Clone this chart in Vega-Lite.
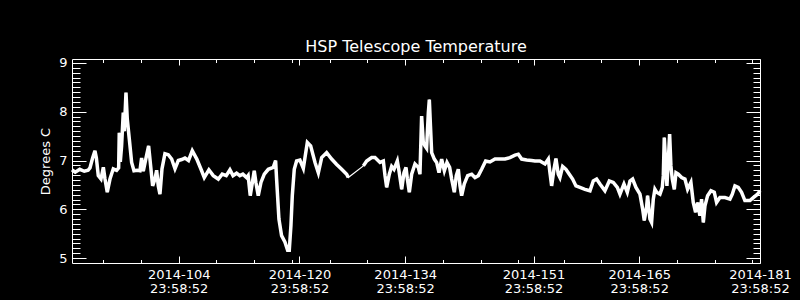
{
  "$schema": "https://vega.github.io/schema/vega-lite/v6.json",
  "width": 688,
  "height": 204,
  "autosize": {"type": "none"},
  "padding": {"left": 72, "top": 59, "right": 40, "bottom": 37},
  "background": "black",
  "title": {"text": "HSP Telescope Temperature", "fontSize": 16, "font": "DejaVu Sans", "fontWeight": "normal", "color": "white", "anchor": "middle", "baseline": "alphabetic", "offset": -11, "frame": "group"},
  "data": {"values": [
    {"t": 89.87, "v": 6.81}, {"t": 90.3, "v": 6.76}, {"t": 90.9, "v": 6.82}, {"t": 91.5, "v": 6.78}, {"t": 92.0, "v": 6.80},
    {"t": 92.25, "v": 6.85}, {"t": 92.6, "v": 7.05}, {"t": 92.91, "v": 7.20}, {"t": 93.1, "v": 7.05}, {"t": 93.35, "v": 6.69},
    {"t": 93.71, "v": 6.62}, {"t": 94.02, "v": 6.86}, {"t": 94.24, "v": 6.62}, {"t": 94.54, "v": 6.35}, {"t": 94.90, "v": 6.62},
    {"t": 95.34, "v": 6.83}, {"t": 95.78, "v": 6.80}, {"t": 96.05, "v": 6.85}, {"t": 96.13, "v": 7.57}, {"t": 96.27, "v": 6.97},
    {"t": 96.44, "v": 7.30}, {"t": 96.66, "v": 7.98}, {"t": 96.8, "v": 7.6}, {"t": 97.02, "v": 8.39}, {"t": 97.19, "v": 7.85},
    {"t": 97.46, "v": 7.44}, {"t": 97.77, "v": 6.96}, {"t": 98.08, "v": 6.79}, {"t": 98.5, "v": 6.80}, {"t": 98.87, "v": 6.79},
    {"t": 99.09, "v": 7.05}, {"t": 99.31, "v": 6.78}, {"t": 99.67, "v": 7.05}, {"t": 100.02, "v": 7.30}, {"t": 100.28, "v": 6.90},
    {"t": 100.55, "v": 6.48}, {"t": 100.86, "v": 6.62}, {"t": 101.08, "v": 6.80}, {"t": 101.30, "v": 6.48}, {"t": 101.52, "v": 6.31},
    {"t": 101.79, "v": 6.83}, {"t": 102.18, "v": 7.14}, {"t": 102.62, "v": 7.12}, {"t": 103.07, "v": 7.03}, {"t": 103.51, "v": 6.83},
    {"t": 103.95, "v": 7.00}, {"t": 104.4, "v": 7.02}, {"t": 104.83, "v": 7.05}, {"t": 105.3, "v": 7.00}, {"t": 105.80, "v": 7.20},
    {"t": 106.4, "v": 7.03}, {"t": 107.04, "v": 6.79}, {"t": 107.39, "v": 6.65}, {"t": 108.0, "v": 6.81}, {"t": 108.58, "v": 6.69},
    {"t": 109.25, "v": 6.62}, {"t": 109.77, "v": 6.72}, {"t": 110.3, "v": 6.69}, {"t": 110.79, "v": 6.81}, {"t": 111.2, "v": 6.69},
    {"t": 111.67, "v": 6.74}, {"t": 112.1, "v": 6.69}, {"t": 112.5, "v": 6.72}, {"t": 113.0, "v": 6.65}, {"t": 113.2, "v": 6.69},
    {"t": 113.48, "v": 6.28}, {"t": 114.01, "v": 6.79}, {"t": 114.23, "v": 6.55}, {"t": 114.54, "v": 6.28}, {"t": 114.90, "v": 6.55},
    {"t": 115.34, "v": 6.72}, {"t": 115.87, "v": 6.82}, {"t": 116.53, "v": 6.86}, {"t": 116.84, "v": 7.00}, {"t": 116.97, "v": 6.62},
    {"t": 117.28, "v": 5.80}, {"t": 117.63, "v": 5.46}, {"t": 118.07, "v": 5.33}, {"t": 118.43, "v": 5.16}, {"t": 118.65, "v": 5.16},
    {"t": 118.87, "v": 5.67}, {"t": 119.05, "v": 6.28}, {"t": 119.31, "v": 6.82}, {"t": 119.62, "v": 6.99}, {"t": 120.06, "v": 7.01},
    {"t": 120.51, "v": 6.84}, {"t": 121.04, "v": 7.37}, {"t": 121.48, "v": 7.30}, {"t": 122.06, "v": 6.96}, {"t": 122.50, "v": 6.75},
    {"t": 122.94, "v": 7.06}, {"t": 123.60, "v": 7.16}, {"t": 124.26, "v": 7.03}, {"t": 124.93, "v": 6.92}, {"t": 125.59, "v": 6.82},
    {"t": 126.25, "v": 6.72}, {"t": 126.47, "v": 6.65}, {"t": 128.46, "v": 6.89}, {"t": 128.9, "v": 6.99}, {"t": 129.56, "v": 7.06},
    {"t": 130.0, "v": 7.06}, {"t": 130.67, "v": 6.96}, {"t": 131.11, "v": 6.99}, {"t": 131.33, "v": 6.69}, {"t": 131.55, "v": 6.45},
    {"t": 131.90, "v": 6.72}, {"t": 132.21, "v": 6.88}, {"t": 132.52, "v": 6.82}, {"t": 132.96, "v": 6.99}, {"t": 133.18, "v": 6.79},
    {"t": 133.54, "v": 6.41}, {"t": 133.84, "v": 6.75}, {"t": 134.11, "v": 6.86}, {"t": 134.29, "v": 6.62}, {"t": 134.55, "v": 6.35},
    {"t": 134.86, "v": 6.72}, {"t": 135.30, "v": 6.93}, {"t": 135.74, "v": 6.86}, {"t": 135.96, "v": 6.72}, {"t": 136.18, "v": 7.91},
    {"t": 136.40, "v": 7.37}, {"t": 136.62, "v": 7.30}, {"t": 136.84, "v": 7.25}, {"t": 137.07, "v": 7.98}, {"t": 137.20, "v": 8.25},
    {"t": 137.35, "v": 7.71}, {"t": 137.51, "v": 7.16}, {"t": 137.86, "v": 7.03}, {"t": 138.17, "v": 6.96}, {"t": 138.48, "v": 6.75},
    {"t": 138.83, "v": 7.03}, {"t": 139.19, "v": 6.79}, {"t": 139.54, "v": 6.96}, {"t": 139.89, "v": 6.86}, {"t": 140.16, "v": 6.62},
    {"t": 140.51, "v": 6.35}, {"t": 140.77, "v": 6.69}, {"t": 141.04, "v": 6.82}, {"t": 141.26, "v": 6.48}, {"t": 141.48, "v": 6.28},
    {"t": 141.83, "v": 6.52}, {"t": 142.28, "v": 6.69}, {"t": 142.81, "v": 6.72}, {"t": 143.25, "v": 6.65}, {"t": 143.69, "v": 6.69},
    {"t": 144.13, "v": 6.82}, {"t": 144.66, "v": 6.99}, {"t": 145.23, "v": 6.97}, {"t": 145.90, "v": 7.03}, {"t": 146.56, "v": 7.03},
    {"t": 147.22, "v": 7.03}, {"t": 147.88, "v": 7.06}, {"t": 148.55, "v": 7.11}, {"t": 148.99, "v": 7.13}, {"t": 149.43, "v": 7.03},
    {"t": 150.09, "v": 7.01}, {"t": 150.75, "v": 7.00}, {"t": 151.19, "v": 6.99}, {"t": 151.85, "v": 6.99}, {"t": 152.52, "v": 6.93},
    {"t": 152.96, "v": 7.03}, {"t": 153.18, "v": 6.75}, {"t": 153.40, "v": 6.48}, {"t": 153.71, "v": 6.82}, {"t": 153.97, "v": 7.04},
    {"t": 154.28, "v": 6.72}, {"t": 154.50, "v": 6.65}, {"t": 154.86, "v": 6.88}, {"t": 155.30, "v": 6.82}, {"t": 155.74, "v": 6.72},
    {"t": 156.18, "v": 6.62}, {"t": 156.62, "v": 6.48}, {"t": 157.15, "v": 6.45}, {"t": 157.81, "v": 6.41}, {"t": 158.48, "v": 6.38},
    {"t": 158.92, "v": 6.58}, {"t": 159.36, "v": 6.62}, {"t": 159.80, "v": 6.52}, {"t": 160.46, "v": 6.38}, {"t": 161.04, "v": 6.58},
    {"t": 161.57, "v": 6.55}, {"t": 162.10, "v": 6.45}, {"t": 162.45, "v": 6.31}, {"t": 162.98, "v": 6.52}, {"t": 163.42, "v": 6.35},
    {"t": 163.78, "v": 6.58}, {"t": 164.13, "v": 6.62}, {"t": 164.57, "v": 6.45}, {"t": 165.10, "v": 6.31}, {"t": 165.45, "v": 6.01},
    {"t": 165.67, "v": 5.77}, {"t": 165.98, "v": 6.05}, {"t": 166.11, "v": 6.28}, {"t": 166.42, "v": 5.80}, {"t": 166.64, "v": 5.73},
    {"t": 166.86, "v": 6.20}, {"t": 167.08, "v": 6.41}, {"t": 167.31, "v": 6.35}, {"t": 167.75, "v": 6.31}, {"t": 168.06, "v": 6.45},
    {"t": 168.19, "v": 6.69}, {"t": 168.32, "v": 7.47}, {"t": 168.50, "v": 6.99}, {"t": 168.67, "v": 6.48}, {"t": 168.85, "v": 6.99},
    {"t": 169.03, "v": 7.54}, {"t": 169.20, "v": 6.89}, {"t": 169.38, "v": 6.62}, {"t": 169.65, "v": 6.41}, {"t": 169.87, "v": 6.75},
    {"t": 170.18, "v": 6.72}, {"t": 170.62, "v": 6.65}, {"t": 171.06, "v": 6.62}, {"t": 171.41, "v": 6.41}, {"t": 171.85, "v": 6.55},
    {"t": 172.16, "v": 6.14}, {"t": 172.47, "v": 5.94}, {"t": 172.74, "v": 6.14}, {"t": 173.04, "v": 5.87}, {"t": 173.26, "v": 6.21},
    {"t": 173.49, "v": 5.73}, {"t": 173.71, "v": 6.07}, {"t": 174.06, "v": 6.28}, {"t": 174.50, "v": 6.38}, {"t": 174.94, "v": 6.35},
    {"t": 175.25, "v": 6.14}, {"t": 175.69, "v": 6.24}, {"t": 176.36, "v": 6.24}, {"t": 177.02, "v": 6.21}, {"t": 177.33, "v": 6.31},
    {"t": 177.68, "v": 6.48}, {"t": 178.12, "v": 6.45}, {"t": 178.56, "v": 6.35}, {"t": 179.00, "v": 6.18}, {"t": 179.67, "v": 6.18},
    {"t": 180.11, "v": 6.24}, {"t": 180.68, "v": 6.31}, {"t": 181.0, "v": 6.38}
  ]},
  "config": {
    "view": {"stroke": "white", "strokeWidth": 1},
    "axis": {"grid": false, "domain": false, "tickColor": "white", "tickWidth": 1, "labelColor": "white", "titleColor": "white", "labelFont": "DejaVu Sans", "titleFont": "DejaVu Sans", "labelFontSize": 13, "titleFontSize": 13, "titleFontWeight": "normal"}
  },
  "resolve": {"axis": {"x": "independent", "y": "independent"}},
  "layer": [
    {
      "mark": {"type": "line", "color": "white", "strokeWidth": 1.2},
      "encoding": {
        "x": {"field": "t", "type": "quantitative", "scale": {"domain": [89.87, 181], "nice": false, "zero": false},
          "axis": {"orient": "bottom", "values": [104, 120, 134, 151, 165, 181], "tickSize": -7, "labelPadding": 12, "labelExpr": "['2014-' + datum.value, '23:58:52']", "labelLineHeight": 14, "labelFlush": false, "labelOverlap": false, "title": null}},
        "y": {"field": "v", "type": "quantitative", "scale": {"domain": [4.9, 9.08], "nice": false, "zero": false},
          "axis": {"orient": "left", "values": [5, 6, 7, 8, 9], "tickSize": -14, "labelPadding": 19, "labelOverlap": false, "title": "Degrees C", "titleX": -23, "titleY": 102, "titleAngle": -90, "titleBaseline": "alphabetic", "titleAlign": "center"}}
      }
    },
    {
      "transform": [{"filter": "datum.t < 127"}],
      "mark": {"type": "line", "color": "white", "strokeWidth": 3.5},
      "encoding": {
        "x": {"field": "t", "type": "quantitative", "scale": {"domain": [89.87, 181], "nice": false, "zero": false},
          "axis": {"orient": "bottom", "values": [94, 99, 109, 114, 119, 124, 129, 139, 144, 149, 155, 160, 170, 175, 180], "tickSize": -3.5, "labels": false, "title": null}},
        "y": {"field": "v", "type": "quantitative", "scale": {"domain": [4.9, 9.08], "nice": false, "zero": false},
          "axis": {"orient": "left", "values": [5.1, 5.2, 5.3, 5.4, 5.5, 5.6, 5.7, 5.8, 5.9, 6.1, 6.2, 6.3, 6.4, 6.5, 6.6, 6.7, 6.8, 6.9, 7.1, 7.2, 7.3, 7.4, 7.5, 7.6, 7.7, 7.8, 7.9, 8.1, 8.2, 8.3, 8.4, 8.5, 8.6, 8.7, 8.8, 8.9], "tickSize": -8, "labels": false, "title": null}}
      }
    },
    {
      "transform": [{"filter": "datum.t > 127"}],
      "mark": {"type": "line", "color": "white", "strokeWidth": 3.5},
      "encoding": {
        "x": {"field": "t", "type": "quantitative", "scale": {"domain": [89.87, 181], "nice": false, "zero": false},
          "axis": {"orient": "top", "values": [104, 120, 134, 151, 165, 181], "tickSize": -6, "labels": false, "title": null}},
        "y": {"field": "v", "type": "quantitative", "scale": {"domain": [4.9, 9.08], "nice": false, "zero": false},
          "axis": {"orient": "right", "values": [5, 6, 7, 8, 9], "tickSize": -14, "labels": false, "title": null}}
      }
    },
    {
      "mark": {"type": "line", "color": "white", "strokeWidth": 1, "opacity": 0},
      "encoding": {
        "x": {"field": "t", "type": "quantitative", "scale": {"domain": [89.87, 181], "nice": false, "zero": false},
          "axis": {"orient": "top", "values": [94, 99, 109, 114, 119, 124, 129, 139, 144, 149, 155, 160, 170, 175, 180], "tickSize": -3.5, "labels": false, "title": null}},
        "y": {"field": "v", "type": "quantitative", "scale": {"domain": [4.9, 9.08], "nice": false, "zero": false},
          "axis": {"orient": "right", "values": [5.1, 5.2, 5.3, 5.4, 5.5, 5.6, 5.7, 5.8, 5.9, 6.1, 6.2, 6.3, 6.4, 6.5, 6.6, 6.7, 6.8, 6.9, 7.1, 7.2, 7.3, 7.4, 7.5, 7.6, 7.7, 7.8, 7.9, 8.1, 8.2, 8.3, 8.4, 8.5, 8.6, 8.7, 8.8, 8.9], "tickSize": -7, "labels": false, "title": null}}
      }
    }
  ]
}
